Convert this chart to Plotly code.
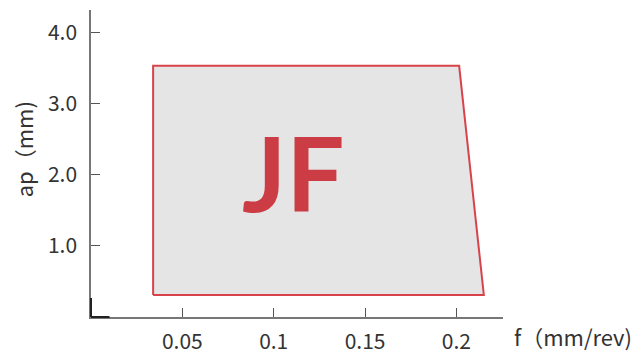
import plotly.graph_objects as go

# Data
f_vals = [0.034, 0.034, 0.2015, 0.215]       # feed f (mm/rev) polygon vertices
ap_vals = [0.31, 3.535, 3.535, 0.31]         # depth of cut ap (mm)
x_ticks = [0.05, 0.1, 0.15, 0.2]
x_ticklabels = ["0.05", "0.1", "0.15", "0.2"]
y_ticks = [1.0, 2.0, 3.0, 4.0]
y_ticklabels = ["1.0", "2.0", "3.0", "4.0"]
region_label = "JF"
label_pos = (0.111, 2.04)

FONT = "Noto Sans CJK JP"
RED = "#cc3c44"

fig = go.Figure()
fig.add_trace(go.Scatter(
    x=f_vals + f_vals[:1], y=ap_vals + ap_vals[:1], mode="lines", fill="toself",
    fillcolor="#e5e5e5", line=dict(color="#d8434a", width=2),
    hoverinfo="skip", showlegend=False,
))

fig.add_annotation(x=label_pos[0], y=label_pos[1], xref="x", yref="y",
                   text="<b>" + region_label + "</b>", showarrow=False,
                   font=dict(family="Lato", size=103, color=RED))

# axis titles
fig.add_annotation(x=1.022, y=-0.063, xref="paper", yref="paper",
                   text="f（mm/rev)", showarrow=False, xanchor="left", yanchor="middle",
                   font=dict(family=FONT, size=22, color="#333"))
fig.add_annotation(x=-0.166, y=0.545, xref="paper", yref="paper",
                   text="ap（mm)", showarrow=False, textangle=-90,
                   xanchor="center", yanchor="middle",
                   font=dict(family=FONT, size=22, color="#333"))

# dark corner segments
fig.add_shape(type="line", xref="paper", yref="paper", x0=0, y0=0, x1=0.045, y1=0,
              line=dict(color="#222", width=2))
fig.add_shape(type="line", xref="paper", yref="paper", x0=0, y0=0, x1=0, y1=0.062,
              line=dict(color="#222", width=2))

fig.update_xaxes(range=[0, 0.2255], tickvals=x_ticks, ticktext=x_ticklabels,
                 ticks="inside", ticklen=9, tickcolor="#555", tickwidth=1,
                 showline=True, linecolor="#777", linewidth=1.5,
                 showgrid=False, zeroline=False, automargin=False,
                 tickfont=dict(family=FONT, size=21, color="#333"),
                 ticklabelstandoff=5)
fig.update_yaxes(range=[0, 4.32], tickvals=y_ticks, ticktext=y_ticklabels,
                 ticks="inside", ticklen=9, tickcolor="#555", tickwidth=1,
                 showline=True, linecolor="#777", linewidth=1.5,
                 showgrid=False, zeroline=False, automargin=False,
                 tickfont=dict(family=FONT, size=21, color="#333"),
                 ticklabelstandoff=8)

# page body has an 8px default margin, so the figure is sized/offset to compensate
fig.update_layout(width=632, height=346,
                  margin=dict(l=83, r=137, t=2, b=37, autoexpand=False),
                  plot_bgcolor="white", paper_bgcolor="white",
                  font=dict(family=FONT))

fig.write_html("out.html")
